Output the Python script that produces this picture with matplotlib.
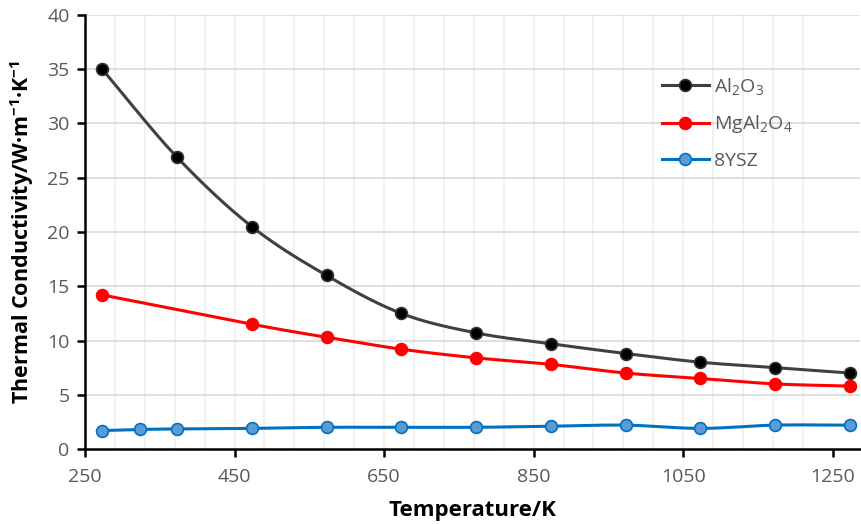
import numpy as np
import matplotlib.pyplot as plt

plt.rcParams['font.family'] = ['Open Sans', 'DejaVu Sans']
plt.rcParams['mathtext.default'] = 'regular'

# data
t_al2o3 = [273, 373, 473, 573, 673, 773, 873, 973, 1073, 1173, 1273]
k_al2o3 = [35.0, 26.9, 20.5, 16.0, 12.5, 10.7, 9.7, 8.8, 8.0, 7.5, 7.0]

t_mgal = [273, 473, 573, 673, 773, 873, 973, 1073, 1173, 1273]
k_mgal = [14.2, 11.5, 10.3, 9.2, 8.4, 7.8, 7.0, 6.5, 6.0, 5.8]

t_ysz = [273, 323, 373, 473, 573, 673, 773, 873, 973, 1073, 1173, 1273]
k_ysz = [1.7, 1.8, 1.85, 1.9, 2.0, 2.0, 2.0, 2.1, 2.2, 1.9, 2.2, 2.2]


def smooth(x, y, n=30):
    # Catmull-Rom style smoothing like Excel's "smoothed line"
    x = np.asarray(x, float)
    y = np.asarray(y, float)
    px = np.concatenate([[2 * x[0] - x[1]], x, [2 * x[-1] - x[-2]]])
    py = np.concatenate([[2 * y[0] - y[1]], y, [2 * y[-1] - y[-2]]])
    xs, ys = [], []
    s = np.linspace(0, 1, n)
    for i in range(1, len(px) - 2):
        p0, p1, p2, p3 = [np.array([px[j], py[j]]) for j in range(i - 1, i + 3)]
        c1 = p1 + (p2 - p0) / 6
        c2 = p2 - (p3 - p1) / 6
        b = ((1 - s) ** 3)[:, None] * p1 + (3 * (1 - s) ** 2 * s)[:, None] * c1 \
            + (3 * (1 - s) * s ** 2)[:, None] * c2 + (s ** 3)[:, None] * p2
        xs.extend(b[:, 0])
        ys.extend(b[:, 1])
    return xs, ys


fig = plt.figure(figsize=(8.62, 5.24), dpi=100)
ax = fig.add_axes([85 / 862, 75 / 524, 775 / 862, 434 / 524])

series = [
    (t_al2o3, k_al2o3, 'Al$_2$O$_3$', '#404040', 'black', '#303030'),
    (t_mgal, k_mgal, 'MgAl$_2$O$_4$', '#ff0000', '#ff0000', '#ff0000'),
    (t_ysz, k_ysz, '8YSZ', '#0070c0', '#5b9bd5', '#0070c0'),
]
for x, y, lab, lc, mf, me in series:
    sx, sy = smooth(x, y)
    ax.plot(sx, sy, color=lc, lw=2.2, zorder=3)
    ax.plot(x, y, ls='none', marker='o', ms=8.5, mfc=mf, mec=me, mew=1.2, zorder=4)
    ax.plot([], [], color=lc, lw=2.2, marker='o', ms=8.5, mfc=mf, mec=me, mew=1.2, label=lab)

ax.set_xlim(250, 1286.5)
ax.set_ylim(0, 40)
ax.set_xticks([250, 450, 650, 850, 1050, 1250])
ax.set_yticks(np.arange(0, 41, 5))

# gridlines
for gx in np.arange(290, 1250, 40):
    ax.axvline(gx, color='#efefef', lw=1.2, zorder=0)
for gy in np.arange(5, 41, 5):
    ax.axhline(gy, color='#d9d9d9', lw=1.2, zorder=1)

for s in ['top', 'right']:
    ax.spines[s].set_visible(False)
for s in ['left', 'bottom']:
    ax.spines[s].set_linewidth(1.8)
    ax.spines[s].set_color('black')

ax.tick_params(axis='both', direction='out', length=6, width=1.8, color='black',
               labelsize=14, labelcolor='#595959')
ax.tick_params(axis='y', pad=5)
ax.tick_params(axis='x', pad=8)

ax.set_xlabel('Temperature/K', fontsize=16, fontweight='bold', labelpad=10)
ax.set_ylabel('Thermal Conductivity/W·m$^{-1}$·K$^{-1}$', fontsize=15.5,
              fontweight='bold', labelpad=8)

leg = ax.legend(loc='upper left', bbox_to_anchor=(0.722, 0.9), frameon=False,
                fontsize=14, labelspacing=0.85, handlelength=2.4, handletextpad=0.25)
for txt in leg.get_texts():
    txt.set_color('#595959')

fig.savefig('out.png', dpi=100)
